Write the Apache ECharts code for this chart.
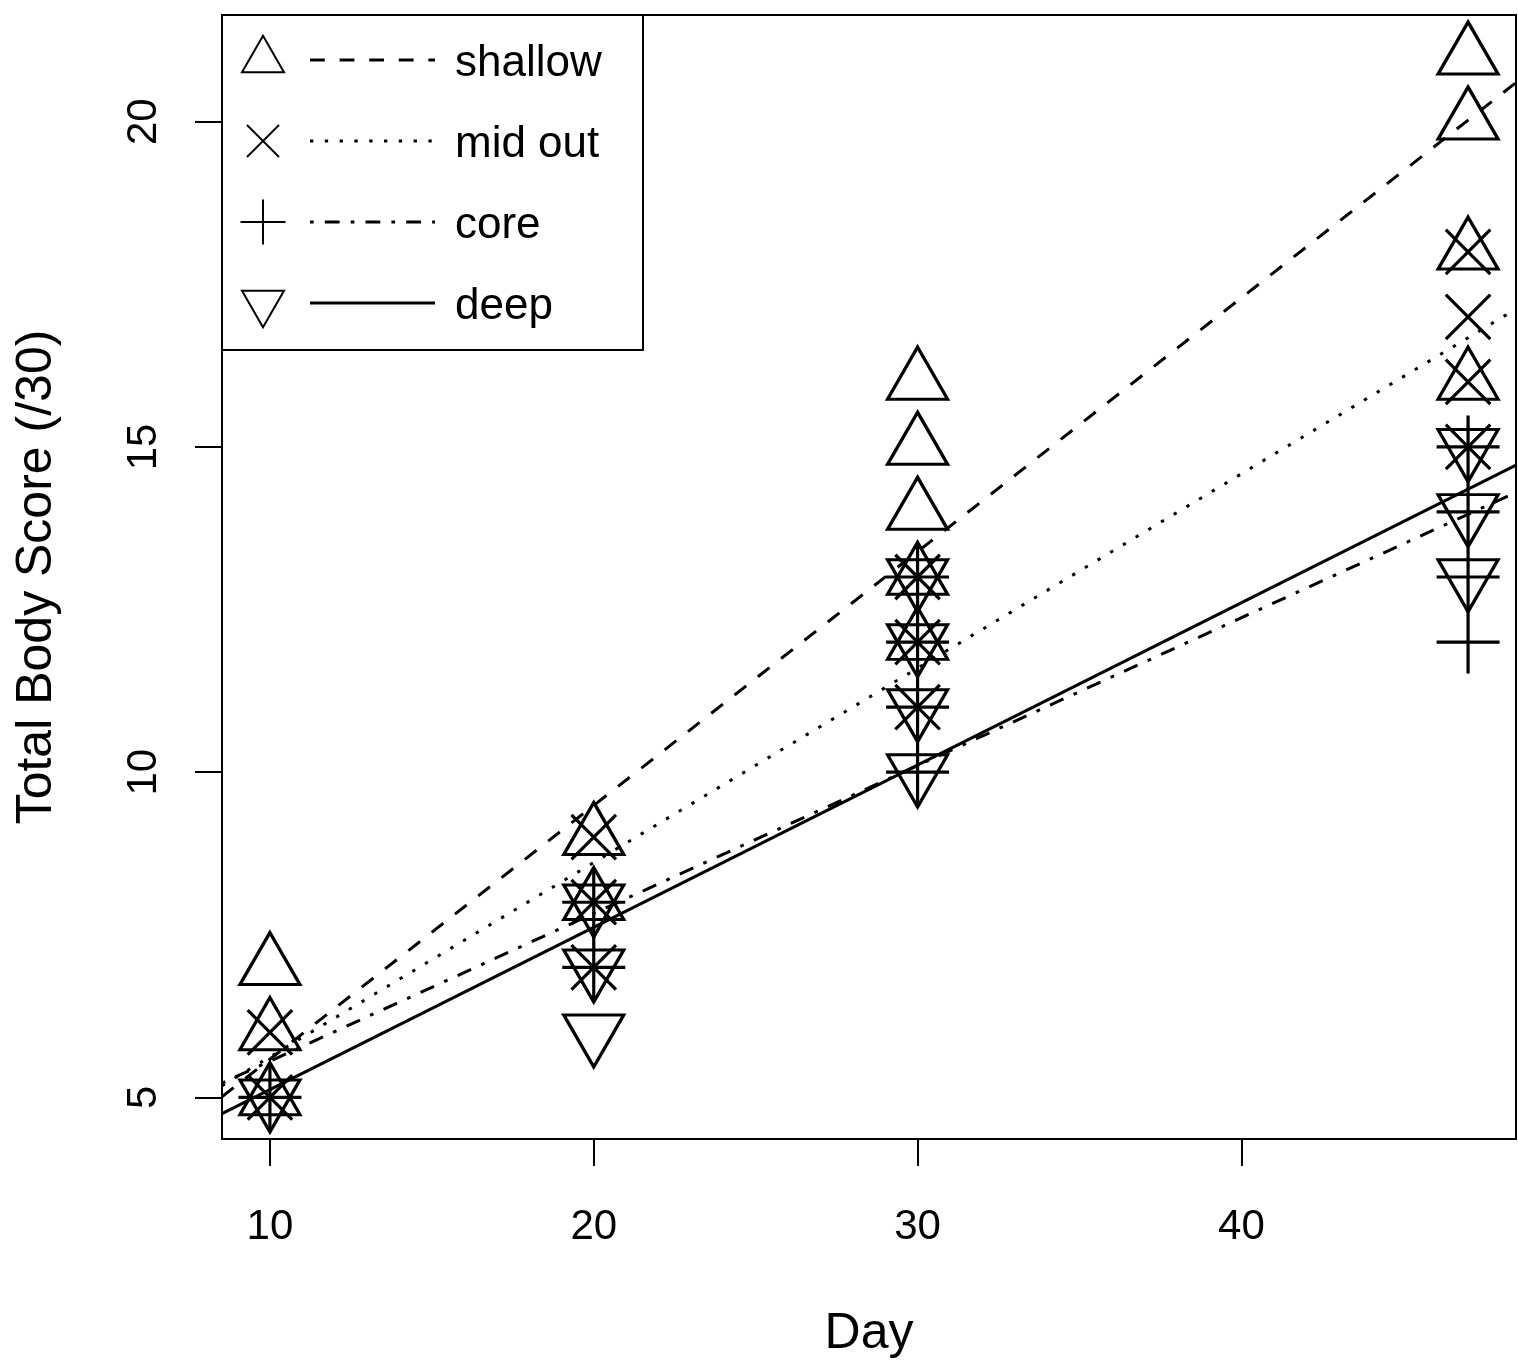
<!DOCTYPE html>
<html><head><meta charset="utf-8">
<script src="https://cdn.jsdelivr.net/npm/echarts@6/dist/echarts.min.js"></script>
<style>html,body{margin:0;padding:0;background:#fff}#c{width:1518px;height:1364px}</style>
</head><body><div id="c"></div>
<script>
// ---- data ----
const seriesNames = ['shallow', 'mid out', 'core', 'deep'];
const shallowDays   = [10, 10, 10, 20, 20, 30, 30, 30, 30, 30, 47, 47, 47, 47];
const shallowScores = [7, 6, 5, 9, 8, 16, 15, 14, 13, 12, 21, 20, 18, 16];
const midOutDays    = [10, 10, 20, 20, 20, 30, 30, 30, 47, 47, 47, 47];
const midOutScores  = [6, 5, 9, 8, 7, 13, 12, 11, 18, 17, 16, 15];
const coreDays      = [10, 20, 20, 30, 30, 30, 30, 47, 47, 47, 47];
const coreScores    = [5, 8, 7, 13, 12, 11, 10, 15, 14, 13, 12];
const deepDays      = [10, 20, 20, 20, 30, 30, 30, 30, 47, 47, 47];
const deepScores    = [5, 8, 7, 6, 13, 12, 11, 10, 15, 14, 13];
// fitted lines: value at the left and right edge of the plot
const fitDays      = [8.52, 48.48];
const shallowFit   = [5.01, 20.60];
const midOutFit    = [5.18, 17.12];
const coreFit      = [5.22, 14.30];
const deepFit      = [4.75, 14.72];
const xTicks = [10, 20, 30, 40];
const yTicks = [5, 10, 15, 20];
const xRange = [8.52, 48.48];
const yRange = [4.36, 21.64];

// ---- styles ----
const FONT = 'Liberation Sans';
const pts = (d, s) => d.map((v, i) => [v, s[i]]);
const fit = f => fitDays.map((v, i) => [v, f[i]]);
const PATH_UP = 'path://M5,0 L10,10 L0,10 Z';
const PATH_DOWN = 'path://M0,0 L10,0 L5,10 Z';
const PATH_X = 'path://M0,0 L10,10 M10,0 L0,10';
const PATH_PLUS = 'path://M5,0 L5,10 M0,5 L10,5';
const U = 3.7;
const dashes = {
  shallow: [4 * U, 4 * U],
  mid: [0.9 * U, 3.1 * U],
  core: [1 * U, 3 * U, 4 * U, 3 * U],
  deep: 'solid'
};
const symStyle = {color: 'rgba(0,0,0,0)', borderColor: '#000', borderWidth: 3.2, opacity: 1};

function scatter(name, data, symbol, size, offset) {
  return {type: 'scatter', name, data, symbol, symbolSize: size, symbolOffset: offset,
    itemStyle: symStyle, emphasis: {disabled: true}, silent: true, z: 2};
}
function fitLine(name, data, dash) {
  return {type: 'line', name: name + ' fit', data, showSymbol: false, symbol: 'none',
    lineStyle: {color: '#000', width: 3, type: dash, cap: 'butt', opacity: 1}, silent: true, z: 3, clip: true};
}

// legend (drawn as graphics)
const legRows = [60, 141, 222, 303];
const legG = [];
legG.push({type: 'rect', shape: {x: 222, y: 15, width: 421, height: 335},
  style: {fill: '#fff', stroke: '#000', lineWidth: 2}, z: 10});
const lr = 24.3, lxc = 21, lcx = 263;
const legSym = [
  y => ({type: 'polygon', shape: {points: [[lcx, y - lr], [lcx + lxc, y + lr / 2], [lcx - lxc, y + lr / 2]]}}),
  y => ({type: 'polyline', shape: {points: [[lcx - 16, y - 16], [lcx + 16, y + 16]]}}),
  y => ({type: 'polyline', shape: {points: [[lcx, y - 22.5], [lcx, y + 22.5]]}}),
  y => ({type: 'polygon', shape: {points: [[lcx, y + lr], [lcx + lxc, y - lr / 2], [lcx - lxc, y - lr / 2]]}})
];
const legDash = [dashes.shallow, dashes.mid, dashes.core, null];
seriesNames.forEach((n, i) => {
  const y = legRows[i];
  const s = legSym[i](y);
  s.style = {fill: 'none', stroke: '#000', lineWidth: 2};
  s.z = 11;
  legG.push(s);
  if (i === 1) legG.push({type: 'polyline', shape: {points: [[lcx + 16, y - 16], [lcx - 16, y + 16]]}, style: {fill: 'none', stroke: '#000', lineWidth: 2}, z: 11});
  if (i === 2) legG.push({type: 'polyline', shape: {points: [[lcx - 22.5, y], [lcx + 22.5, y]]}, style: {fill: 'none', stroke: '#000', lineWidth: 2}, z: 11});
  const ls = {stroke: '#000', lineWidth: 3};
  if (legDash[i]) ls.lineDash = legDash[i];
  legG.push({type: 'line', shape: {x1: 310, y1: y, x2: 435, y2: y}, style: ls, z: 11});
  legG.push({type: 'text', x: 455, y: y + 4, style: {text: n, fontFamily: FONT, fontSize: 44, fill: '#000', verticalAlign: 'middle', align: 'left'}, z: 11});
});

const chart = echarts.init(document.getElementById('c'), null, {renderer: 'canvas'});
chart.setOption({
  animation: false,
  backgroundColor: '#fff',
  grid: {left: 222, top: 15, width: 1294, height: 1126, show: true, borderColor: '#000', borderWidth: 2, backgroundColor: 'transparent'},
  xAxis: {
    type: 'value', min: xRange[0], max: xRange[1],
    name: 'Day', nameLocation: 'middle', nameGap: 170,
    nameTextStyle: {fontFamily: FONT, fontSize: 50, color: '#000'},
    axisLine: {show: false},
    splitLine: {show: false},
    axisTick: {show: true, inside: false, length: 27, customValues: xTicks, lineStyle: {color: '#000', width: 2}},
    axisLabel: {customValues: xTicks, fontFamily: FONT, fontSize: 42, color: '#000', margin: 67}
  },
  yAxis: {
    type: 'value', min: yRange[0], max: yRange[1],
    name: 'Total Body Score (/30)', nameLocation: 'middle', nameGap: 160,
    nameTextStyle: {fontFamily: FONT, fontSize: 50, color: '#000'},
    axisLine: {show: false},
    splitLine: {show: false},
    axisTick: {show: true, inside: false, length: 27, customValues: yTicks, lineStyle: {color: '#000', width: 2}},
    axisLabel: {customValues: yTicks, rotate: 90, fontFamily: FONT, fontSize: 42, color: '#000', margin: 57}
  },
  series: [
    scatter('shallow', pts(shallowDays, shallowScores), PATH_UP, [60, 52], [0, -8.67]),
    scatter('mid out', pts(midOutDays, midOutScores), PATH_X, [44.5, 44.5], [0, 0]),
    scatter('core', pts(coreDays, coreScores), PATH_PLUS, [63, 63], [0, 0]),
    scatter('deep', pts(deepDays, deepScores), PATH_DOWN, [60, 52], [0, 8.67]),
    fitLine('shallow', fit(shallowFit), dashes.shallow),
    fitLine('mid out', fit(midOutFit), dashes.mid),
    fitLine('core', fit(coreFit), dashes.core),
    fitLine('deep', fit(deepFit), dashes.deep)
  ],
  graphic: legG
});
</script>
</body></html>
